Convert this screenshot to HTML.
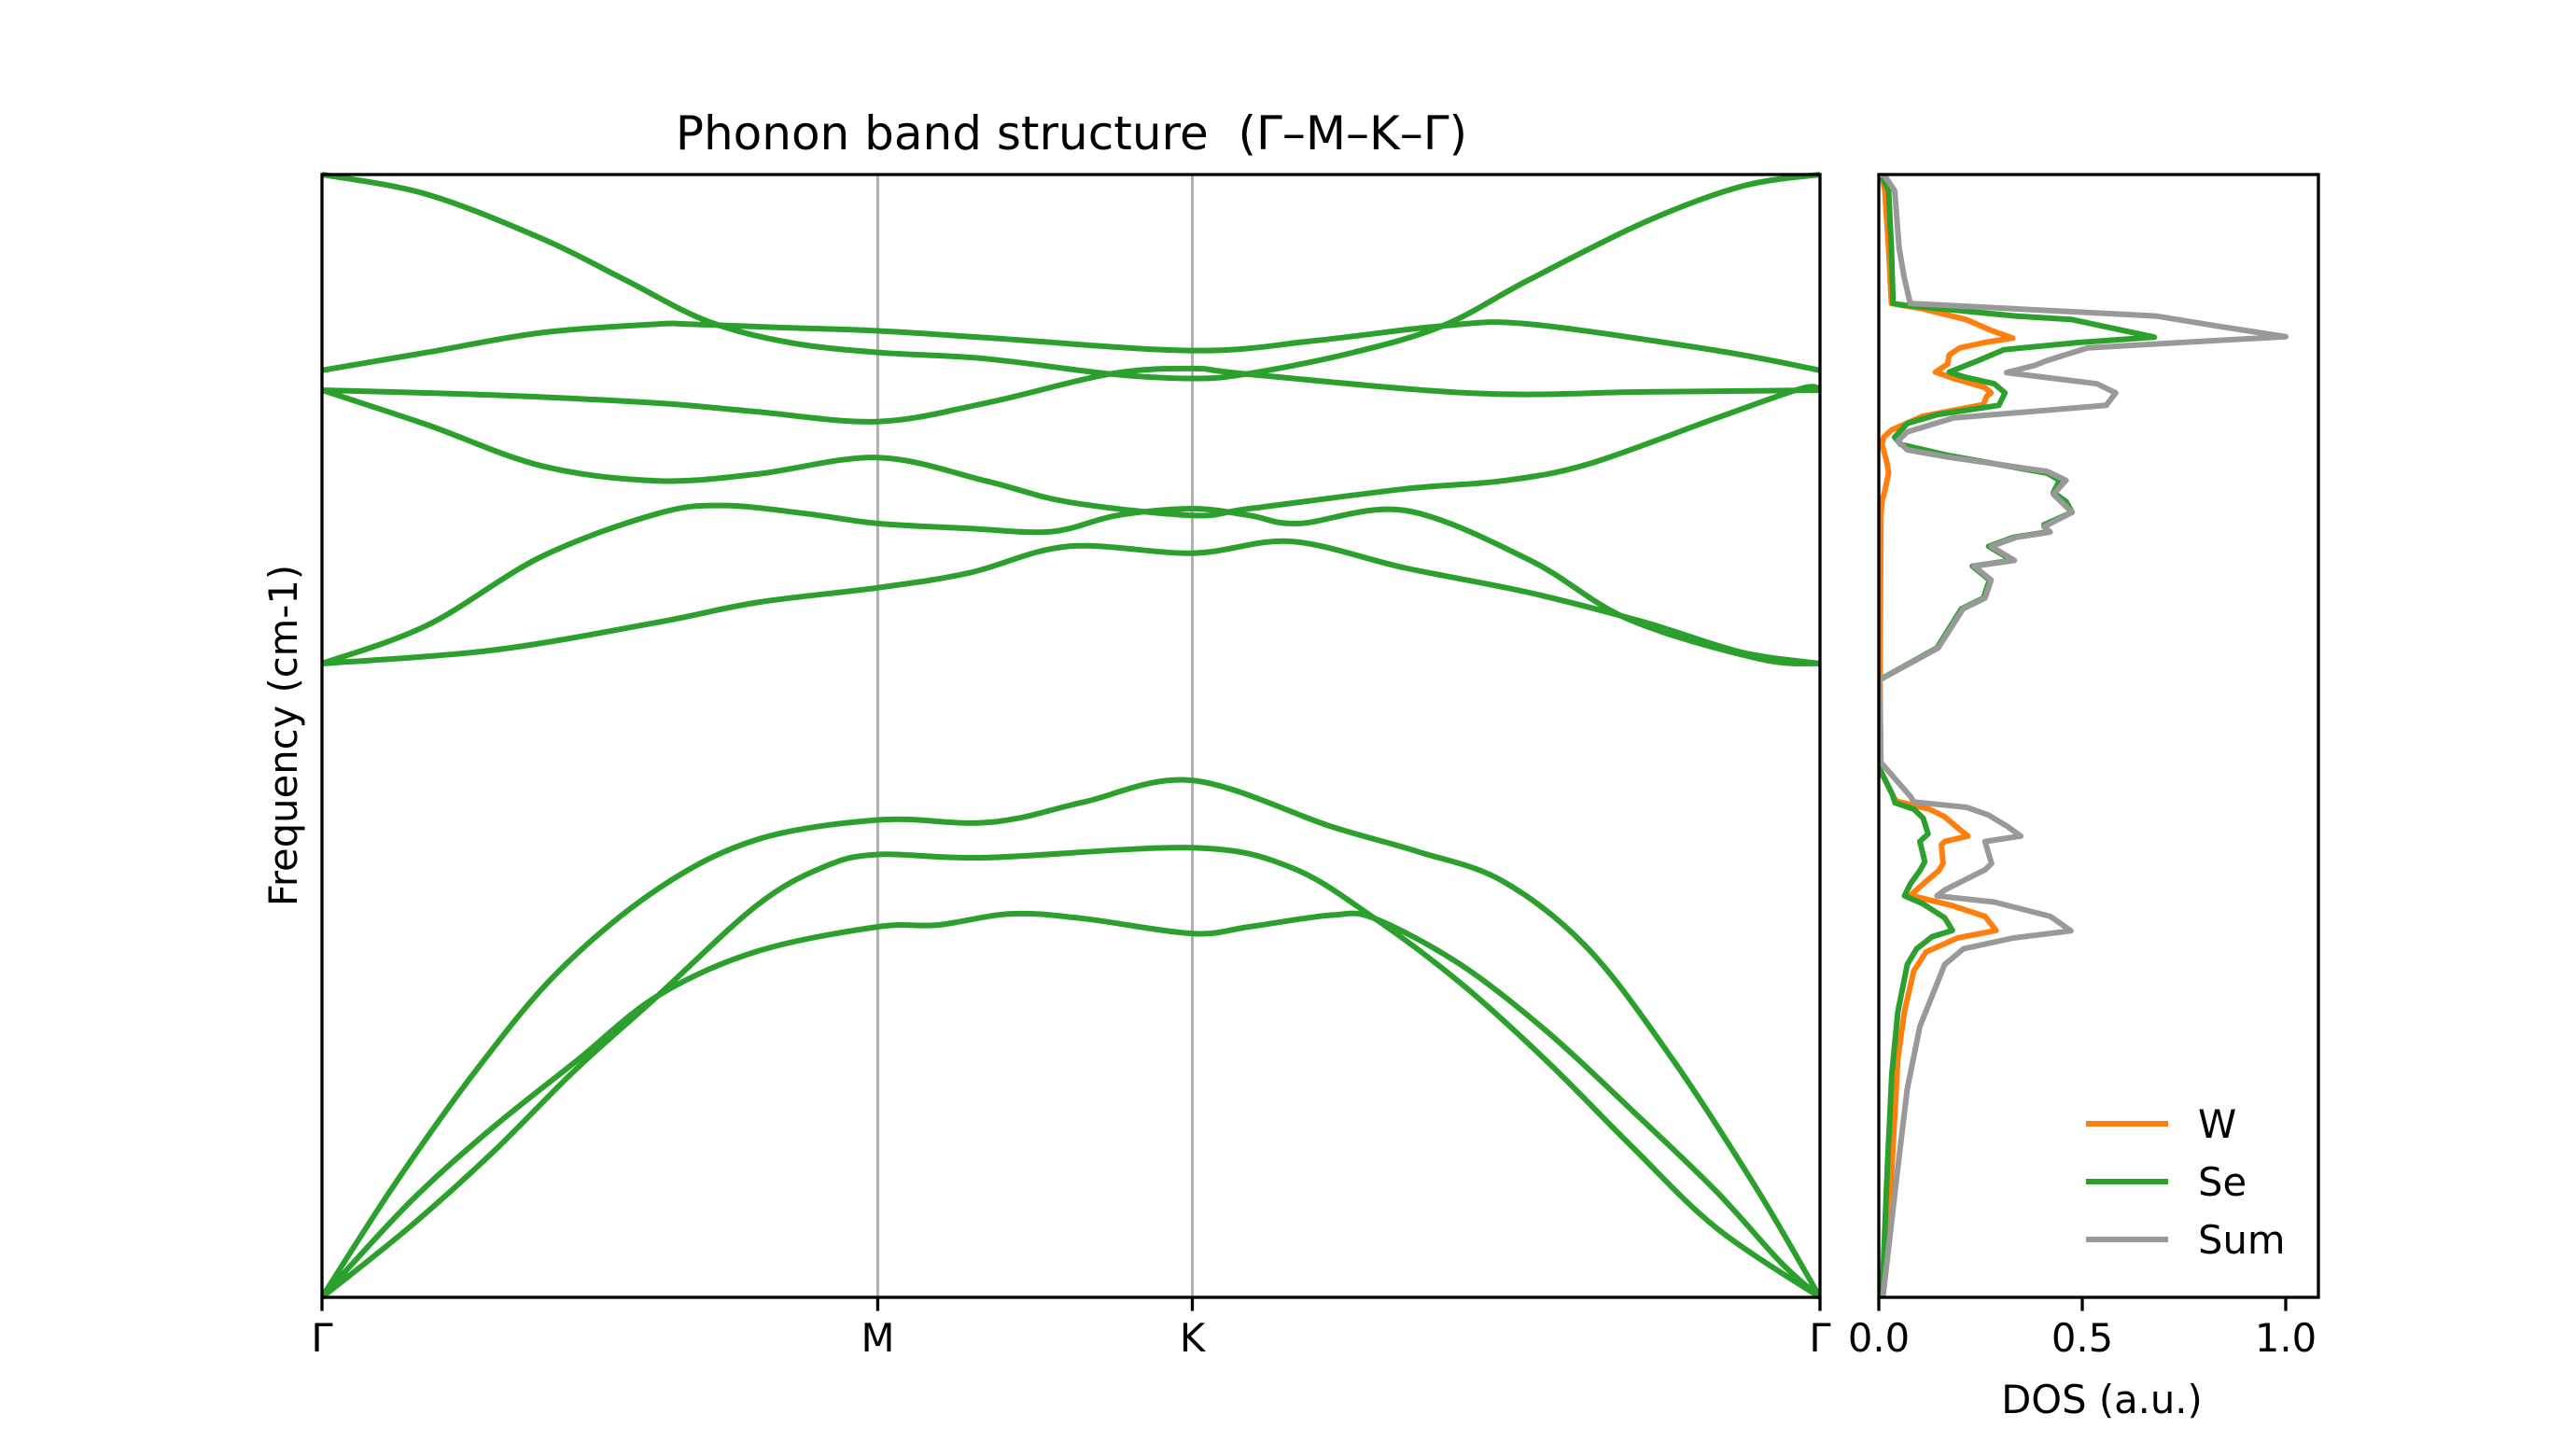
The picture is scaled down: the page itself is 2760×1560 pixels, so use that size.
<!DOCTYPE html>
<html><head><meta charset="utf-8"><title>Phonon band structure</title>
<style>
html,body{margin:0;padding:0;background:#fff;}
svg{display:block;font-family:"DejaVu Sans","Liberation Sans",sans-serif;}
</style></head>
<body>
<svg id="fig" width="2760" height="1560" viewBox="0 0 2760 1560" xmlns="http://www.w3.org/2000/svg">
<rect width="2760" height="1560" fill="#fff"/>
<g id="bands"></g>
<g id="dos"></g>
</svg>
<script>
// ---- band structure data (k = fractional path distance, f = frequency) ----
const kTicks = [0, 0.371, 0.581, 1];
const kLabels = ["Γ", "M", "K", "Γ"];
const bandK = [
  [0,.048,.103,.158,.224,.290,.371,.432,.465,.509,.581,.674,.731,.788,.845,.902,.959,1],
  [0,.059,.114,.169,.224,.290,.334,.371,.443,.581,.647,.703,.760,.817,.874,.931,1],
  [0,.059,.114,.169,.224,.290,.371,.411,.460,.509,.581,.619,.674,.703,.760,.817,.874,.931,.974,1],
  [0,.114,.224,.290,.371,.432,.498,.581,.647,.723,.806,.883,.948,1],
  [0,.070,.147,.224,.268,.323,.371,.432,.487,.531,.581,.619,.652,.723,.806,.872,.959,1],
  [0,.070,.147,.224,.290,.371,.443,.498,.581,.619,.723,.788,.845,.931,.988,1],
  [0,.114,.224,.290,.371,.443,.526,.581,.617,.768,.883,1],
  [0,.070,.147,.224,.244,.301,.371,.443,.581,.663,.748,.806,.931,1],
  [0,.070,.147,.202,.257,.312,.371,.443,.526,.581,.617,.685,.748,.806,.883,.948,1]
];
const bandF = [
  [0,24.9,50.6,72.6,90.9,101.9,106.3,105.6,106.7,110.3,115.1,104.8,99.3,92.7,77.7,52.8,23.5,0],
  [0,15.8,32.3,50.6,67.1,87.2,95.7,98.6,97.9,100.1,95.7,84.3,70.0,52.8,33.7,15.4,0],
  [0,21.3,37.8,52.4,67.1,77.0,82.5,82.9,85.4,84.3,81.0,82.5,85.1,84.3,74.1,59.4,41.8,23.5,7.7,0],
  [141.1,144.1,150.3,154.7,158.0,161.3,167.2,165.7,168.3,162.4,156.9,150.3,143.6,141.1],
  [141.1,149.6,165.0,174.5,176.3,174.5,172.3,171.2,170.5,174.1,175.6,174.1,172.3,175.2,164.2,151.0,142.2,141.1],
  [202.0,194.3,185.1,181.8,183.3,187.0,181.8,177.1,174.1,175.6,180.0,181.8,185.5,195.8,202.4,202.0],
  [202.0,200.9,199.1,197.2,195.0,199.1,205.6,206.8,205.6,201.3,201.6,202.0],
  [206.4,210.4,214.8,216.7,216.7,216.0,215.2,213.7,210.8,213.0,216.3,216.7,210.8,206.4],
  [250,245.6,235.7,226.6,217.4,212.6,210.4,209.0,205.6,204.6,205.6,210.1,216.3,226.6,239.4,247.4,250]
];
// ---- DOS data ----
const dosTicks = [0, 0.5, 1.0];
const dosTickLabels = ["0.0", "0.5", "1.0"];
const sumF = [250,246.4,233.6,227.3,221.3,218.5,216.1,213.9,211.4,208.6,207.5,205.9,203.4,201.4,198.6,195.8,192.7,190.7,188.7,187.1,183.9,181.9,178.8,174.8,171.6,170.4,169.2,167.2,164.1,162.8,159.7,155.7,153.3,144.6,137.4,
  119.1,111.5,110.3,109.1,107.4,104.9,102.7,101.5,96.6,95.2,90.7,89.4,88.0,84.8,81.6,80.0,77.6,74.1,60.3,46.4,29.1,0];
const sumD = [0.012,0.039,0.050,0.062,0.077,0.681,0.842,1.0,0.513,0.414,0.383,0.314,0.536,0.582,0.559,0.184,0.070,0.047,0.070,0.169,0.414,0.460,0.429,0.475,0.406,0.421,0.337,0.276,0.333,0.234,0.276,0.261,0.207,0.146,0.001,
  0.005,0.078,0.086,0.216,0.269,0.315,0.349,0.261,0.277,0.261,0.162,0.143,0.284,0.422,0.472,0.330,0.208,0.162,0.101,0.070,0.047,0.01];
const seF = [249.5,246.4,233.6,221.3,220.9,218.5,217.7,213.8,212.6,211.0,208.6,206.0,205.0,203.4,201.4,198.6,196.6,194.6,191.5,189.9,187.5,183.5,181.9,179.2,177.2,174.8,172.0,170.4,169.2,167.2,164.1,162.8,159.7,155.7,153.3,144.6,137.4,
  119.0,117.1,112.2,110.1,108.7,106.7,103.2,101.5,97.0,95.0,92.1,89.4,87.6,84.5,81.7,80.3,77.6,74.1,63.7,49.9,29.1,0];
const seD = [0.008,0.024,0.031,0.035,0.062,0.337,0.475,0.677,0.490,0.307,0.245,0.173,0.207,0.284,0.310,0.295,0.146,0.070,0.039,0.054,0.169,0.414,0.444,0.429,0.460,0.475,0.406,0.415,0.330,0.270,0.328,0.230,0.272,0.257,0.203,0.143,0.0,
  0.0,0.005,0.032,0.040,0.086,0.109,0.121,0.101,0.113,0.101,0.078,0.063,0.109,0.162,0.181,0.131,0.093,0.070,0.047,0.032,0.021,0.008];
const wF = [249.5,246.4,233.6,221.3,220.1,217.7,215.3,213.6,212.6,211.4,209.8,207.8,206.0,204.6,202.6,201.4,200.6,198.8,196.2,193.1,191.5,189.9,185.9,183.5,179.6,177.2,174.0,137.4,
  117.1,110.8,110.4,108.7,107.0,104.6,102.7,101.5,100.8,96.6,95.0,91.4,89.5,87.3,84.8,81.7,80.0,76.9,72.7,63.7,53.3,29.1,0];
const wD = [0.008,0.015,0.024,0.031,0.108,0.215,0.276,0.329,0.260,0.199,0.173,0.169,0.139,0.184,0.260,0.276,0.265,0.257,0.108,0.031,0.012,0.008,0.020,0.024,0.015,0.008,0.005,0.003,
  0.005,0.040,0.047,0.124,0.162,0.193,0.219,0.162,0.154,0.158,0.147,0.101,0.078,0.177,0.261,0.288,0.193,0.116,0.086,0.063,0.047,0.032,0.01];

// ---- layout ----
const NS = "http://www.w3.org/2000/svg";
const AX = {l:345, r:1950, t:187, b:1390};
const DX = {l:2013, r:2484};
const fMax = 250, dosPerPx = 436;
const xK = k => AX.l + k*(AX.r-AX.l);
const yF = f => AX.b - f/fMax*(AX.b-AX.t);
const xD = d => DX.l + d*dosPerPx;
const GREEN="#2ca02c", ORANGE="#ff7f0e", GRAY="#999999";

function mk(tag, attrs, parent){const e=document.createElementNS(NS,tag);for(const a in attrs)e.setAttribute(a,attrs[a]);parent.appendChild(e);return e;}

const gB = document.getElementById("bands");
const gD = document.getElementById("dos");

const defs = mk("defs",{},document.getElementById("fig"));
const c1 = mk("clipPath",{id:"clipB"},defs); mk("rect",{x:AX.l,y:AX.t-4,width:AX.r-AX.l,height:AX.b-AX.t+8},c1);
const c2 = mk("clipPath",{id:"clipD"},defs); mk("rect",{x:DX.l,y:AX.t,width:DX.r-DX.l,height:AX.b-AX.t},c2);

kTicks.slice(1,3).forEach((k,i)=>{
  const l = mk("line",{x1:xK(k),x2:xK(k),y1:AX.t,y2:AX.b,stroke:"#b0b0b0","stroke-width":3},gB);
  
  
});

function smooth(pts){
  let d = "M"+pts[0][0].toFixed(1)+","+pts[0][1].toFixed(1);
  for(let i=0;i<pts.length-1;i++){
    const p0=pts[Math.max(0,i-1)],p1=pts[i],p2=pts[i+1],p3=pts[Math.min(pts.length-1,i+2)];
    const c1x=p1[0]+(p2[0]-p0[0])/6,c1y=p1[1]+(p2[1]-p0[1])/6;
    const c2x=p2[0]-(p3[0]-p1[0])/6,c2y=p2[1]-(p3[1]-p1[1])/6;
    d+=" C"+c1x.toFixed(1)+","+c1y.toFixed(1)+" "+c2x.toFixed(1)+","+c2y.toFixed(1)+" "+p2[0].toFixed(1)+","+p2[1].toFixed(1);
  }
  return d;
}
const gBands = mk("g",{"clip-path":"url(#clipB)"},gB);
bandK.forEach((ks,bi)=>{
  const pts = ks.map((k,i)=>[xK(k), yF(bandF[bi][i])]);
  const p = mk("path",{d:smooth(pts),fill:"none",stroke:GREEN,"stroke-width":6,"stroke-linejoin":"round"},gBands);
  
  
});

const fr = mk("rect",{x:AX.l,y:AX.t,width:AX.r-AX.l,height:AX.b-AX.t,fill:"none",stroke:"#000","stroke-width":3.3},gB);



kTicks.forEach((k,i)=>{
  const t = mk("line",{x1:xK(k),x2:xK(k),y1:AX.b,y2:AX.b+14.6,stroke:"#000","stroke-width":3.3},gB);
  
  
  const tx = mk("text",{x:xK(k),y:AX.b+58,"font-size":41.7,"text-anchor":"middle",fill:"#000"},gB);
  tx.textContent = kLabels[i];
  
  
});

const gDL = mk("g",{"clip-path":"url(#clipD)"},gD);
[[wF,wD,ORANGE,"dos-w-line"],[seF,seD,GREEN,"dos-se-line"],[sumF,sumD,GRAY,"dos-sum-line"]].forEach(s=>{
  const pts = s[0].map((f,i)=>xD(s[1][i]).toFixed(1)+","+yF(f).toFixed(1)).join(" ");
  const pl = mk("polyline",{points:pts,fill:"none",stroke:s[2],"stroke-width":6,"stroke-linejoin":"round"},gDL);
  
  
});
const fr2 = mk("rect",{x:DX.l,y:AX.t,width:DX.r-DX.l,height:AX.b-AX.t,fill:"none",stroke:"#000","stroke-width":3.3},gD);


dosTicks.forEach((d,i)=>{
  const t = mk("line",{x1:xD(d),x2:xD(d),y1:AX.b,y2:AX.b+14.6,stroke:"#000","stroke-width":3.3},gD);
  
  
  const tx = mk("text",{x:xD(d),y:AX.b+58,"font-size":41.7,"text-anchor":"middle",fill:"#000"},gD);
  tx.textContent = dosTickLabels[i];
  
  
});

const legend = mk("g",{},gD);


[["W",ORANGE],["Se",GREEN],["Sum",GRAY]].forEach((e,i)=>{
  const y = 1204 + i*62;
  const l = mk("line",{x1:2235,x2:2323,y1:y,y2:y,stroke:e[1],"stroke-width":6},legend);
  
  
  const t = mk("text",{x:2355,y:y+15,"font-size":41.7,fill:"#000"},legend);
  t.textContent = e[0];
  
  
});
</script>
<svg style="position:absolute;left:0;top:0" width="2760" height="1560" viewBox="0 0 2760 1560">
<text x="1148" y="160" font-size="50" text-anchor="middle" xml:space="preserve" style="white-space:pre" font-family="DejaVu Sans, Liberation Sans, sans-serif">Phonon band structure  (Γ–M–K–Γ)</text>
<text transform="translate(318,788) rotate(-90)" font-size="41.7" text-anchor="middle" font-family="DejaVu Sans, Liberation Sans, sans-serif">Frequency (cm-1)</text>
<text x="2252" y="1514" font-size="41.7" text-anchor="middle" font-family="DejaVu Sans, Liberation Sans, sans-serif">DOS (a.u.)</text>
</svg>
</body></html>
